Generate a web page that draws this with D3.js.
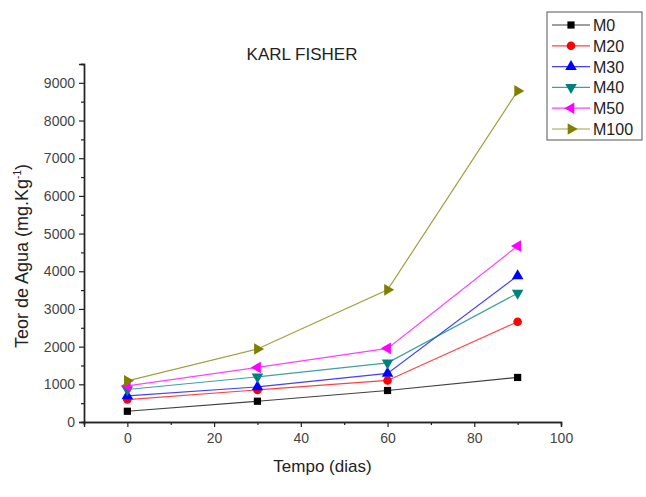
<!DOCTYPE html>
<html>
<head>
<meta charset="utf-8">
<script src="https://cdn.jsdelivr.net/npm/d3@7/dist/d3.min.js"></script>
<style>
    body { margin: 0; background: #fff; }
    text { font-family: "Liberation Sans", Arial, sans-serif; }
</style>
</head>
<body>
<svg id="chart" width="646" height="497"></svg>
<script>
// days of storage
const tempo = [0, 30, 60, 90];

// water content (mg/kg) per sample
const m0 = [285, 551, 836, 1182];
const m20 = [596, 852, 1102, 2662];
const m30 = [692, 932, 1289, 3879];
const m40 = [863, 1198, 1571, 3419];
const m50 = [958, 1448, 1954, 4670];
const m100 = [1092, 1936, 3507, 8786];

const seriesNames = ['M0', 'M20', 'M30', 'M40', 'M50', 'M100'];
const seriesValues = [m0, m20, m30, m40, m50, m100];

const xTicks = [0, 20, 40, 60, 80, 100];
const yTicks = [0, 1000, 2000, 3000, 4000, 5000, 6000, 7000, 8000, 9000];

const colors = ['#000000', '#ff0000', '#0000ff', '#008080', '#ff00ff', '#808000'];

const width = 646, height = 497;
const margin = {left: 84, right: 85, top: 64, bottom: 75};

const svg = d3.select('#chart');

const xScale = d3.scaleLinear().domain([-10, 100]).range([margin.left, width - margin.right]);
const yScale = d3.scaleLinear().domain([0, 9500]).range([height - margin.bottom, margin.top]);

// marker shapes: square, circle, up, down, left, right
const markers = [
    {type: d3.symbolSquare, size: 52, rot: 0},
    {type: d3.symbolCircle, size: 58, rot: 0},
    {type: d3.symbolTriangle, size: 58, rot: 0},
    {type: d3.symbolTriangle, size: 58, rot: 180},
    {type: d3.symbolTriangle, size: 58, rot: -90},
    {type: d3.symbolTriangle, size: 58, rot: 90}
];

function markerPath(i) {
    return d3.symbol().type(markers[i].type).size(markers[i].size)();
}

// axes
const axisColor = '#222';
const xAxis = d3.axisBottom(xScale).tickValues(xTicks).tickSize(5).tickPadding(6).tickFormat(d3.format('d'));
const xMinor = d3.axisBottom(xScale).tickValues([-10, 10, 30, 50, 70, 90]).tickSize(3).tickFormat('');
const yAxis = d3.axisLeft(yScale).tickValues(yTicks).tickSize(5).tickPadding(4).tickFormat(d3.format('d'));
const yMinor = d3.axisLeft(yScale).tickValues(d3.range(500, 9600, 1000)).tickSize(3).tickFormat('');

function styleAxis(g) {
    g.select('.domain').attr('stroke', axisColor).attr('stroke-width', 1.4);
    g.selectAll('.tick line').attr('stroke', axisColor).attr('stroke-width', 1.2);
    g.selectAll('.tick text').attr('fill', '#444').style('font-size', '14px')
        .style('font-family', '"Liberation Sans", Arial, sans-serif');
}

svg.append('g').attr('transform', `translate(0,${height - margin.bottom})`).call(xMinor).call(styleAxis);
svg.append('g').attr('transform', `translate(0,${height - margin.bottom})`).call(xAxis).call(styleAxis);
svg.append('g').attr('transform', `translate(${margin.left},0)`).call(yMinor).call(styleAxis);
svg.append('g').attr('transform', `translate(${margin.left},0)`).call(yAxis).call(styleAxis);

// lines
const line = d3.line()
    .x((d, i) => xScale(tempo[i]))
    .y(d => yScale(d));

const plot = svg.append('g');

plot.selectAll('path.series')
    .data(seriesValues)
    .enter().append('path')
    .attr('class', 'series')
    .attr('fill', 'none')
    .attr('stroke', (_, i) => colors[i])
    .attr('stroke-opacity', 0.75)
    .attr('stroke-width', 1.2)
    .attr('d', d => line(d));

seriesValues.forEach((vals, s) => {
    plot.selectAll('path.m' + s)
        .data(vals)
        .enter().append('path')
        .attr('class', 'm' + s)
        .attr('d', markerPath(s))
        .attr('fill', colors[s])
        .attr('transform', (d, i) => `translate(${xScale(tempo[i])},${yScale(d)}) rotate(${markers[s].rot})`);
});

// titles
svg.append('text')
    .attr('x', 302).attr('y', 60)
    .attr('text-anchor', 'middle')
    .attr('fill', '#222')
    .style('font-size', '17px')
    .text('KARL FISHER');

svg.append('text')
    .attr('x', (margin.left + width - margin.right) / 2).attr('y', 472)
    .attr('text-anchor', 'middle')
    .attr('fill', '#222')
    .style('font-size', '17px')
    .text('Tempo (dias)');

const yTitle = svg.append('text')
    .attr('transform', 'translate(28,256) rotate(-90)')
    .attr('text-anchor', 'middle')
    .attr('fill', '#222')
    .style('font-size', '18px');
yTitle.append('tspan').text('Teor de Agua (mg.Kg');
yTitle.append('tspan').attr('dy', -7).style('font-size', '10px').text('-1');
yTitle.append('tspan').attr('dy', 7).text(')');

// legend
const legend = svg.append('g');
legend.append('rect')
    .attr('x', 547).attr('y', 12)
    .attr('width', 95).attr('height', 128)
    .attr('fill', '#fff')
    .attr('stroke', '#555')
    .attr('stroke-width', 1);

const items = legend.selectAll('g.item')
    .data(seriesNames)
    .enter().append('g')
    .attr('class', 'item')
    .attr('transform', (_, i) => `translate(0,${25 + i * 20.8})`);

items.append('line')
    .attr('x1', 552).attr('x2', 590)
    .attr('stroke', (_, i) => colors[i])
    .attr('stroke-opacity', 0.75)
    .attr('stroke-width', 1.2);

items.append('path')
    .attr('d', (_, i) => markerPath(i))
    .attr('fill', (_, i) => colors[i])
    .attr('transform', (_, i) => `translate(571,0) rotate(${markers[i].rot})`);

items.append('text')
    .attr('x', 593).attr('y', 6)
    .attr('fill', '#222')
    .style('font-size', '16px')
    .text(d => d);
</script>
</body>
</html>
